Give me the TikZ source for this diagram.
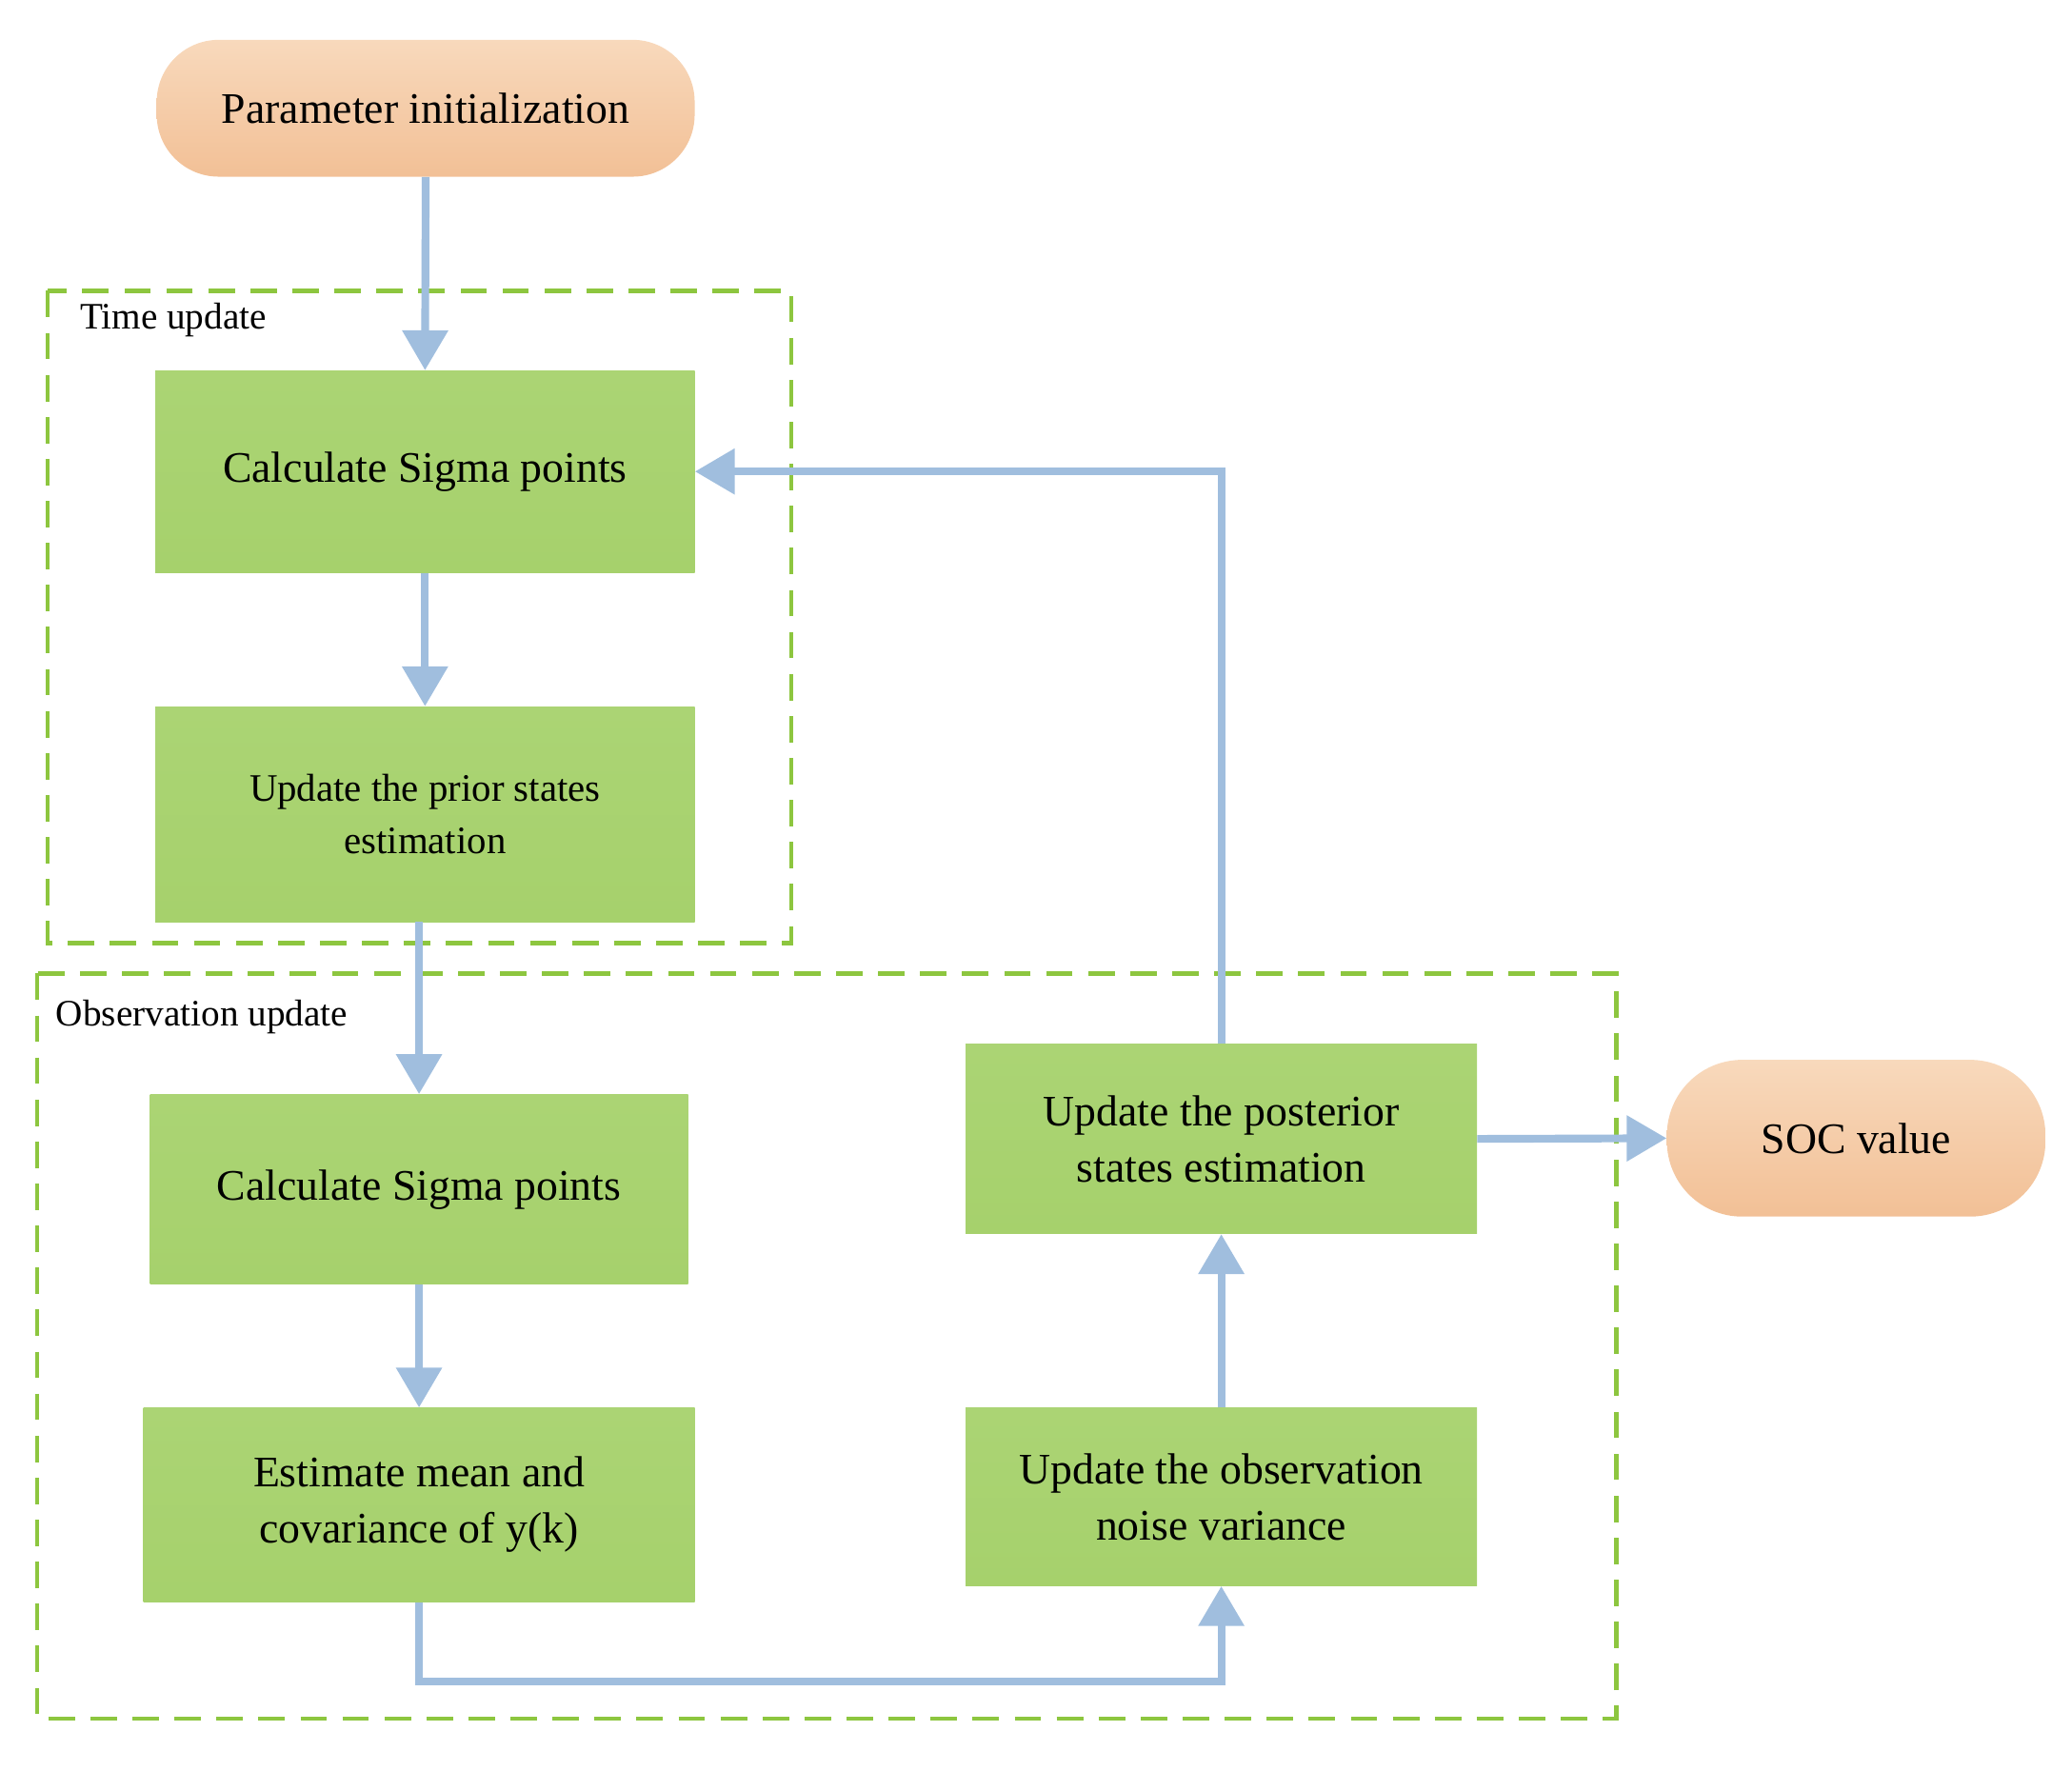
\documentclass[tikz,border=0pt]{standalone}
\usepackage{fontspec}
\setmainfont{Liberation Serif}
\usetikzlibrary{arrows.meta,calc}
\definecolor{gfill}{HTML}{A6D16C}
\definecolor{gtop}{HTML}{ABD474}
\definecolor{dash}{HTML}{8DC63F}
\definecolor{arr}{HTML}{A0BEDE}
\definecolor{ptop}{HTML}{F8D9BC}
\definecolor{pbot}{HTML}{F2C096}
\begin{document}
\begin{tikzpicture}[x=0.03cm,y=-0.03cm,
  box/.style={draw=none,top color=gtop,bottom color=gfill,align=center,inner sep=0pt,font=\fontsize{28}{36}\selectfont},
  term/.style={draw=none,rounded corners=1.4cm,top color=ptop,bottom color=pbot,align=center,inner sep=0pt,font=\fontsize{28}{36}\selectfont},
  grp/.style={draw=dash,line width=2.6pt,dash pattern=on 17pt off 10pt},
  lab/.style={anchor=west,font=\fontsize{24}{28}\selectfont,inner sep=0pt},
  flow/.style={draw=arr,line width=5pt,-{Triangle[width=1.0cm,length=0.9cm]}}]
\useasboundingbox (0,0) rectangle (1560,1333);
\draw[grp] (36,219) rectangle (596,710);
\draw[grp] (28,733) rectangle (1217,1294);
\node[lab] (tu) at (60,241) {Time update};
\node[lab] (ou) at (42,766) {Observation update};
\node[term,minimum width=12.15cm,minimum height=3.09cm] (init) at (320.5,81.5) {Parameter initialization};
\node[box,minimum width=12.18cm,minimum height=4.56cm] (c1) at (320,355) {Calculate Sigma points};
\node[box,minimum width=12.18cm,minimum height=4.86cm,font=\fontsize{25}{34}\selectfont] (prior) at (320,613) {Update the prior states\\estimation};
\node[box,minimum width=12.15cm,minimum height=4.29cm] (c2) at (315.5,895.5) {Calculate Sigma points};
\node[box,minimum width=12.45cm,minimum height=4.38cm] (est) at (315.5,1133) {Estimate mean and\\covariance of y(k)};
\node[box,minimum width=11.55cm,minimum height=4.02cm] (noise) at (919.5,1127) {Update the observation\\noise variance};
\node[box,minimum width=11.55cm,minimum height=4.29cm] (post) at (919.5,857.5) {Update the posterior\\states estimation};
\node[term,minimum width=8.55cm,minimum height=3.54cm,rounded corners=1.7cm] (soc) at (1397.5,857) {SOC value};
\coordinate (k1) at (919.5,1266);
\draw[flow] (init.south) -- (c1.north);
\draw[flow] (c1.south) -- (prior.north);
\draw[flow] (prior.south -| c2.north) -- (c2.north);
\draw[flow] (c2.south) -- (est.south |- est.north);
\draw[flow] (est.south) |- (k1) -- (noise.south);
\draw[flow] (noise.north) -- (post.south);
\draw[flow] (post.north) |- (c1.east);
\draw[flow] (post.east) -- (soc.west);
\end{tikzpicture}
\end{document}
